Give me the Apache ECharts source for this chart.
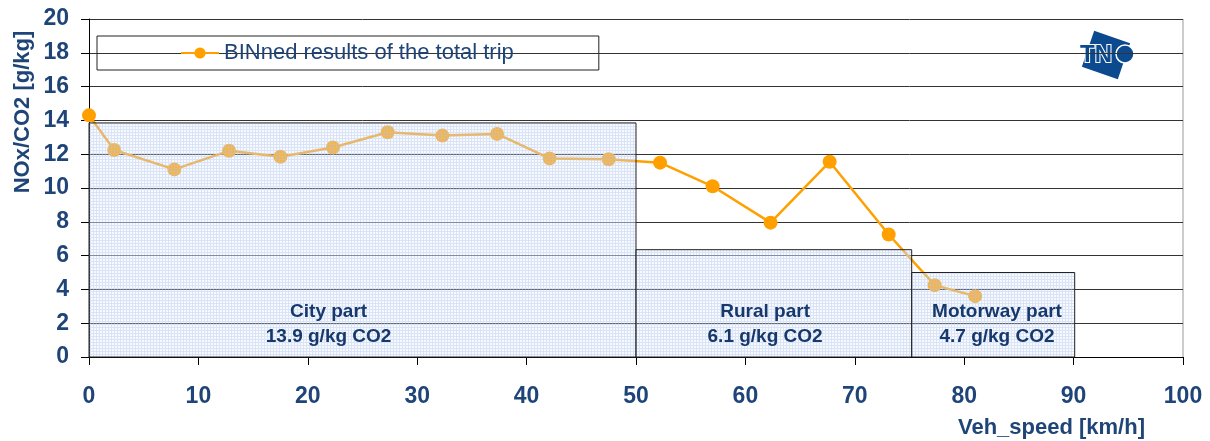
<!DOCTYPE html>
<html>
<head>
<meta charset="utf-8">
<script src="https://cdn.jsdelivr.net/npm/echarts@6/dist/echarts.min.js"></script>
<style>
  html, body { margin: 0; padding: 0; background: #fff; }
  #chart { width: 1210px; height: 441px; }
</style>
</head>
<body>
<div id="chart"></div>
<script>
// binned NOx/CO2 over vehicle speed
const speeds = [0, 2.3, 7.8, 12.8, 17.5, 22.3, 27.3, 32.3, 37.3, 42.1, 47.5, 52.2, 57.0, 62.3, 67.7, 73.1, 77.3, 81.0]
const noxValues = [14.3, 12.25, 11.1, 12.2, 11.85, 12.4, 13.3, 13.1, 13.2, 11.75, 11.7, 11.5, 10.1, 7.95, 11.55, 7.25, 4.25, 3.6]

// trip parts: [from speed, to speed, box height]
const partRanges = [[0, 50, 13.85], [50, 75.2, 6.35], [75.2, 90.1, 5.0]]
const partNames = ['City part', 'Rural part', 'Motorway part']
const partValues = ['13.9 g/kg CO2', '6.1 g/kg CO2', '4.7 g/kg CO2']
const partLabelX = [21.9, 61.8, 83.0]
const partLabelY = [2.7, 1.17]

const xTicks = { min: 0, max: 100, interval: 10 }
const yTicks = { min: 0, max: 20, interval: 2 }

const textBlue = '#1f4578'
const partBlue = '#17386a'
const orange = '#ffa000'
const font = 'Liberation Sans, Arial, sans-serif'

// light blue grid pattern like the excel fill
const pat = document.createElement('canvas')
pat.width = 3
pat.height = 3
const pc = pat.getContext('2d')
pc.fillStyle = 'rgba(226,235,250,0.28)'
pc.fillRect(0, 0, 3, 3)
pc.fillStyle = 'rgba(178,200,238,0.42)'
pc.fillRect(0, 0, 3, 1)
pc.fillRect(0, 1, 1, 2)

const chart = echarts.init(document.getElementById('chart'))

chart.setOption({
  animation: false,
  grid: { left: 89, right: 27, top: 19, bottom: 84 },
  legend: {
    left: 97,
    top: 36,
    data: ['BINned results of the total trip'],
    borderColor: '#222',
    borderWidth: 1,
    borderRadius: 0,
    padding: [6, 85, 6, 83],
    itemWidth: 38,
    itemHeight: 14,
    textStyle: { color: textBlue, fontSize: 22, fontFamily: font }
  },
  xAxis: {
    type: 'value',
    min: xTicks.min,
    max: xTicks.max,
    interval: xTicks.interval,
    axisLine: { show: true, lineStyle: { color: '#000', width: 1 } },
    axisTick: { show: true, length: 8, lineStyle: { color: '#000' } },
    axisLabel: { margin: 28, color: textBlue, fontSize: 23, fontWeight: 'bold', fontFamily: font },
    splitLine: { show: false }
  },
  yAxis: {
    type: 'value',
    min: yTicks.min,
    max: yTicks.max,
    interval: yTicks.interval,
    axisLine: { show: true, lineStyle: { color: '#000', width: 1 } },
    axisTick: { show: true, length: 8, lineStyle: { color: '#000' } },
    axisLabel: { margin: 20, color: textBlue, fontSize: 23, fontWeight: 'bold', fontFamily: font },
    splitLine: { show: true, lineStyle: { color: '#333', width: 1 } }
  },
  graphic: [
    {
      type: 'line',
      shape: { x1: 1183, y1: 19, x2: 1183, y2: 357 },
      style: { stroke: '#999', lineWidth: 1 }
    },
    {
      type: 'text',
      x: 23,
      y: 112,
      rotation: Math.PI / 2,
      style: {
        text: 'NOx/CO2 [g/kg]',
        fill: textBlue,
        font: 'bold 22px ' + font,
        align: 'center',
        verticalAlign: 'middle'
      }
    },
    {
      type: 'text',
      x: 1145,
      y: 428,
      style: {
        text: 'Veh_speed [km/h]',
        fill: textBlue,
        font: 'bold 22px ' + font,
        align: 'right',
        verticalAlign: 'middle'
      }
    },
    // TNO logo
    {
      type: 'group',
      x: 1106,
      y: 55,
      children: [
        {
          type: 'rect',
          rotation: -0.33,
          shape: { x: -19, y: -19, width: 38, height: 38 },
          style: { fill: '#0b4a8e' }
        },
        {
          type: 'circle',
          shape: { cx: 19, cy: -1, r: 9 },
          style: { fill: '#0b4a8e', stroke: '#fff', lineWidth: 1.5 }
        },
        {
          type: 'text',
          x: -10,
          y: 0,
          style: {
            text: 'TN',
            fill: '#0b4a8e',
            stroke: '#fff',
            lineWidth: 2,
            font: 'bold 24px ' + font,
            align: 'center',
            verticalAlign: 'middle'
          }
        }
      ]
    }
  ],
  series: [
    {
      name: 'BINned results of the total trip',
      type: 'line',
      data: speeds.map((s, i) => [s, noxValues[i]]),
      symbol: 'circle',
      symbolSize: 14,
      lineStyle: { color: orange, width: 2.5 },
      itemStyle: { color: orange },
      z: 2
    },
    {
      type: 'custom',
      z: 3,
      silent: true,
      data: partRanges,
      renderItem: (params, api) => {
        const i = params.dataIndex
        const p0 = api.coord([api.value(0), api.value(2)])
        const p1 = api.coord([api.value(1), 0])
        const t1 = api.coord([partLabelX[i], partLabelY[0]])
        const t2 = api.coord([partLabelX[i], partLabelY[1]])
        const txt = (p, s) => ({
          type: 'text',
          x: p[0],
          y: p[1],
          style: {
            text: s,
            fill: partBlue,
            font: 'bold 19px ' + font,
            align: 'center',
            verticalAlign: 'middle'
          }
        })
        return {
          type: 'group',
          children: [
            {
              type: 'rect',
              shape: { x: p0[0], y: p0[1], width: p1[0] - p0[0], height: p1[1] - p0[1] },
              style: { fill: { image: pat, repeat: 'repeat' }, stroke: '#222', lineWidth: 1 }
            },
            txt(t1, partNames[i]),
            txt(t2, partValues[i])
          ]
        }
      }
    }
  ]
})
</script>
</body>
</html>
